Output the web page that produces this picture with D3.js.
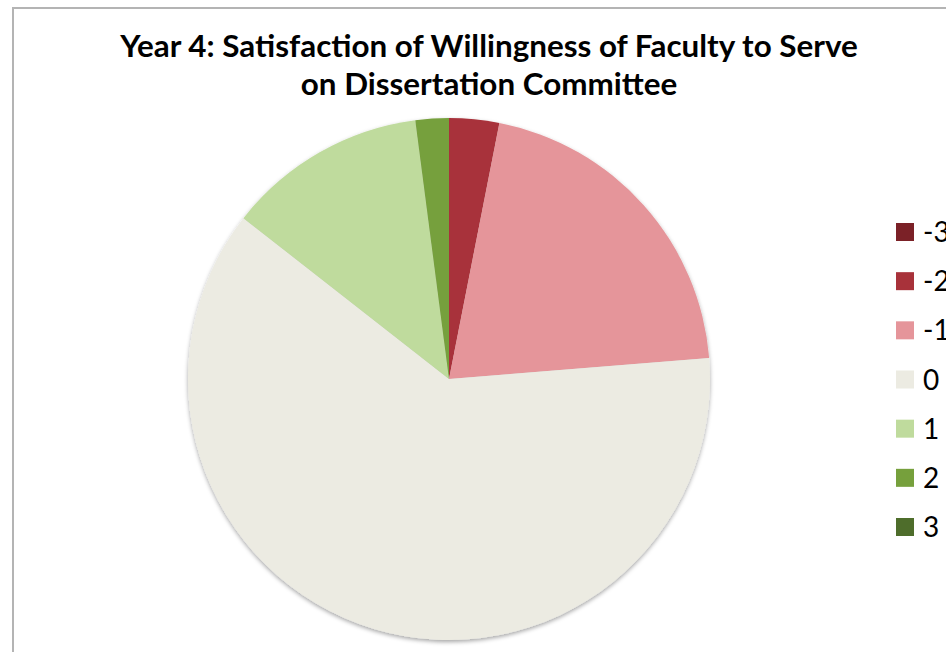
<!DOCTYPE html>
<html>
<head>
<meta charset="utf-8">
<script src="https://cdn.jsdelivr.net/npm/d3@7/dist/d3.min.js"></script>
<style>
  html, body { margin: 0; padding: 0; background: #ffffff; }
  svg { display: block; }
</style>
</head>
<body>
<svg id="chart" width="946" height="652"></svg>
<script>
// Response categories (satisfaction scale) and respondent counts
const categories = ["-3", "-2", "-1", "0", "1", "2", "3"];
const counts = [0, 3, 20, 60, 12, 2, 0];
const colors = ["#7b2127", "#a8323a", "#e5959a", "#ecebe2", "#bfdb9d", "#76a03c", "#4e6d2b"];
const titleLines = [
  "Year 4: Satisfaction of Willingness of Faculty to Serve",
  "on Dissertation Committee"
];

const svg = d3.select("#chart");
const fontFamily = "Lato, 'Open Sans', 'Liberation Sans', sans-serif";

// Chart frame (the right and bottom edges fall outside the view)
svg.append("rect")
  .attr("x", 13).attr("y", 8)
  .attr("width", 1000).attr("height", 700)
  .attr("fill", "#ffffff")
  .attr("stroke", "#b4b4b4")
  .attr("stroke-width", 2);

// Title, sized so the first line spans the intended width
const titleCx = 489;
const title = svg.append("g")
  .attr("font-family", fontFamily)
  .attr("font-weight", "bold")
  .attr("fill", "#000000")
  .attr("text-anchor", "middle");
const probe = title.append("text").attr("font-size", 100).text(titleLines[0]);
const probeW = probe.node().getComputedTextLength();
probe.remove();
const titleSize = 100 * 738 / probeW;
const baselines = [57, 95];
titleLines.forEach((t, i) => {
  title.append("text")
    .attr("x", titleCx)
    .attr("y", baselines[i])
    .attr("font-size", titleSize)
    .text(t);
});

// Pie
const cx = 449, cy = 379, r = 261;
const defs = svg.append("defs");
const shadow = defs.append("filter").attr("id", "pieShadow")
  .attr("x", "-10%").attr("y", "-10%").attr("width", "120%").attr("height", "120%");
shadow.append("feDropShadow")
  .attr("dx", 0).attr("dy", 2)
  .attr("stdDeviation", 2)
  .attr("flood-color", "#000000")
  .attr("flood-opacity", 0.35);

const pie = d3.pie().sort(null).value(d => d.value);
const arc = d3.arc().innerRadius(0).outerRadius(r);
const data = categories.map((c, i) => ({ key: c, value: counts[i], color: colors[i] }));

const pieG = svg.append("g")
  .attr("transform", `translate(${cx},${cy})`)
  .attr("filter", "url(#pieShadow)");
pieG.selectAll("path")
  .data(pie(data))
  .join("path")
  .attr("d", arc)
  .attr("fill", d => d.data.color);

// Legend
const legendY = d3.scalePoint().domain(categories).range([232, 527]);
const legend = svg.append("g").attr("font-family", fontFamily);
const item = legend.selectAll("g")
  .data(data)
  .join("g")
  .attr("transform", d => `translate(896,${legendY(d.key)})`);
item.append("rect")
  .attr("x", 0).attr("y", -9)
  .attr("width", 18).attr("height", 18)
  .attr("fill", d => d.color);
item.append("text")
  .attr("x", 27)
  .attr("y", 10)
  .attr("font-size", 28)
  .attr("fill", "#000000")
  .text(d => d.key);
</script>
</body>
</html>
